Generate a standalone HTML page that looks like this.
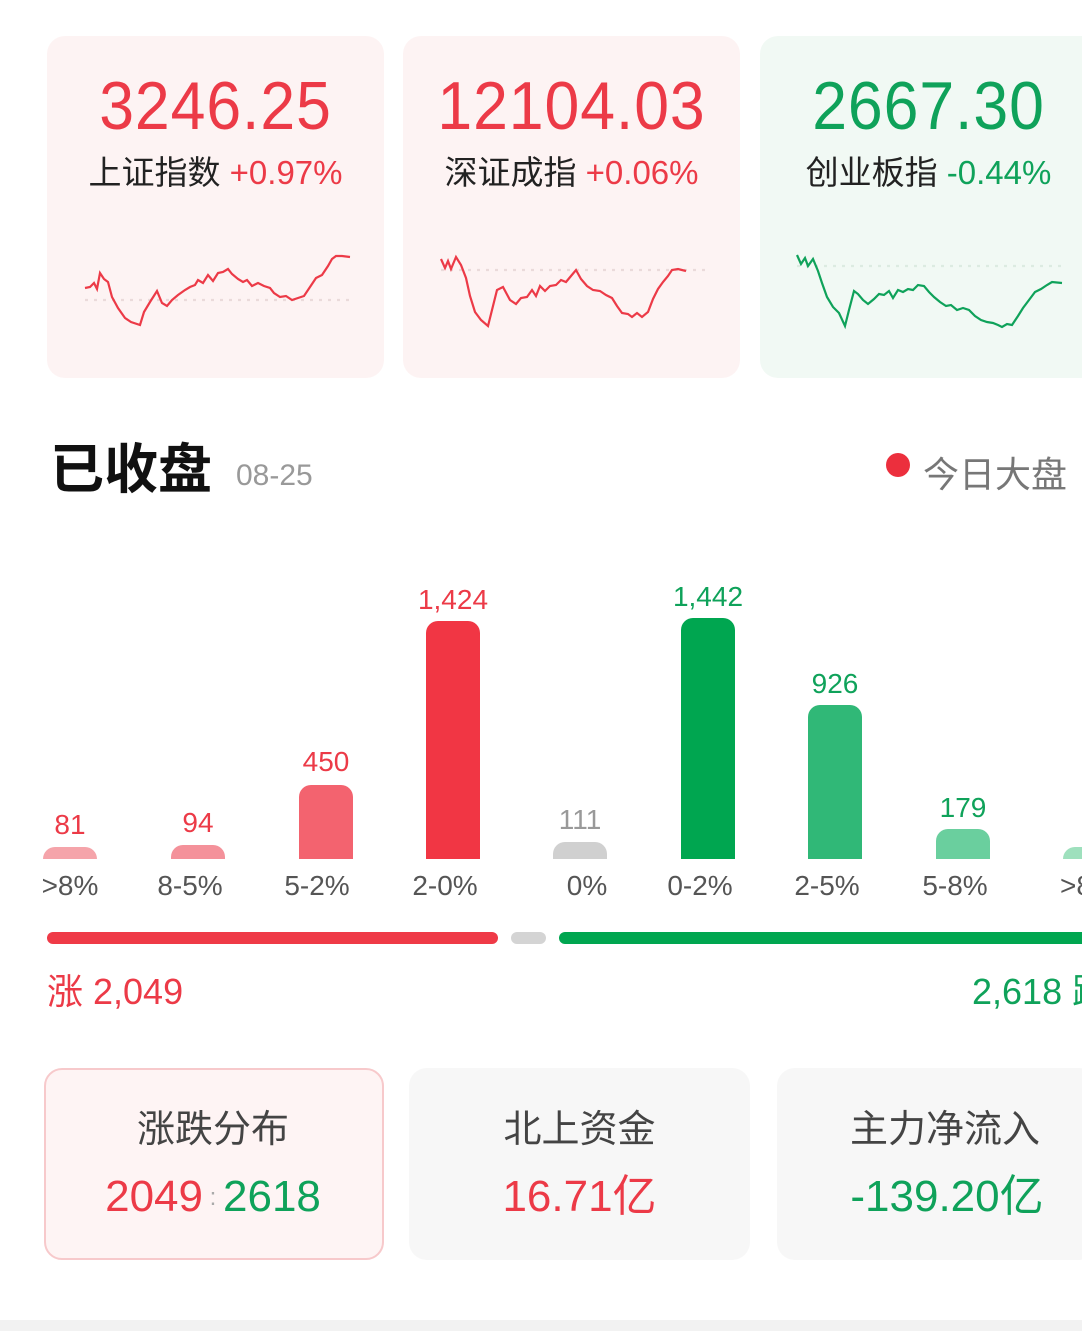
<!DOCTYPE html>
<html><head><meta charset="utf-8"><style>
body{margin:0;width:1082px;height:1331px;background:#fff;position:relative;overflow:hidden;font-family:"Liberation Sans","Noto Sans CJK SC",sans-serif}
.a{position:absolute}
.card{position:absolute;border-radius:18px}
.big{position:absolute;font-size:68px;line-height:68px;text-align:center;letter-spacing:1px;transform:scaleX(0.92)}
.lab{position:absolute;font-size:33px;line-height:36px;text-align:center;color:#222;white-space:nowrap}
.bar{position:absolute;width:54px;border-radius:12px 12px 0 0;bottom:472px}
.v{position:absolute;width:80px;text-align:center;font-size:28px;line-height:30px}
.x{position:absolute;width:100px;text-align:center;font-size:28px;line-height:30px;color:#555;top:871px}
.bt{position:absolute;font-size:38px;color:#444;text-align:center;line-height:40px}
.bv{position:absolute;font-size:44px;text-align:center;line-height:46px}
</style></head><body>
<div class="card" style="left:47px;top:36px;width:337px;height:342px;background:#fdf3f3"></div>
<div class="card" style="left:403px;top:36px;width:337px;height:342px;background:#fdf3f3"></div>
<div class="card" style="left:760px;top:36px;width:340px;height:342px;background:#f1f9f4"></div>
<div class="big" style="left:47px;width:337px;top:72px;color:#ec3a47">3246.25</div>
<div class="big" style="left:403px;width:337px;top:72px;color:#ec3a47">12104.03</div>
<div class="big" style="left:760px;width:337px;top:72px;color:#0fa25a">2667.30</div>
<div class="lab" style="left:47px;width:337px;top:155px">上证指数 <span style="color:#ec3a47">+0.97%</span></div>
<div class="lab" style="left:403px;width:337px;top:155px">深证成指 <span style="color:#ec3a47">+0.06%</span></div>
<div class="lab" style="left:760px;width:337px;top:155px">创业板指 <span style="color:#0fa25a">-0.44%</span></div>
<svg class="a" style="left:0;top:0" width="1082" height="400">
<g fill="none" stroke-width="2.2">
<line x1="85" y1="300" x2="352" y2="300" stroke="#eadada" stroke-dasharray="3 6"/>
<polyline stroke="#ec3a47" points="85,288 90,287 94,283 97,289 100,273 104,279 108,282 112,297 118,308 125,318 131,322 140,325 144,312 150,302 157,291 162,303 167,306 172,300 178,295 185,290 190,287 195,285 198,280 203,283 208,275 213,281 218,273 223,272 228,269 232,274 238,279 243,282 247,280 252,286 258,283 264,286 270,288 274,293 280,297 286,296 292,300 298,298 304,296 310,287 316,278 322,275 328,266 332,259 336,256 342,256 350,257"/>
<line x1="441" y1="270" x2="708" y2="270" stroke="#eadada" stroke-dasharray="3 6"/>
<polyline stroke="#ec3a47" points="441,259 445,268 448,261 451,269 456,257 461,265 466,278 470,296 475,312 481,320 488,326 492,310 497,290 503,287 510,300 516,304 521,298 527,297 532,290 536,296 540,286 545,291 550,286 556,285 561,280 566,282 571,276 576,270 581,279 587,286 593,290 600,291 606,295 612,298 617,306 622,313 628,314 632,317 637,313 642,317 648,312 653,299 658,289 663,282 668,276 672,270 678,269 686,271"/>
<line x1="797" y1="266" x2="1064" y2="266" stroke="#dcebe1" stroke-dasharray="3 6"/>
<polyline stroke="#0fa25a" points="797,255 801,264 805,258 808,266 813,259 818,271 822,283 827,297 833,307 839,313 845,326 849,310 854,291 858,294 863,300 868,304 874,299 879,294 884,295 889,291 893,298 898,290 903,292 908,289 913,290 918,285 924,286 929,292 934,297 940,302 946,306 951,305 957,310 963,308 969,310 975,316 981,320 987,322 993,323 998,325 1002,327 1007,324 1012,325 1018,316 1023,308 1029,300 1035,292 1041,289 1047,285 1052,282 1062,283"/>
</g></svg>
<div class="a" style="left:50px;top:438px;font-size:54px;font-weight:bold;color:#111;line-height:64px">已收盘</div>
<div class="a" style="left:236px;top:459px;font-size:30px;color:#999">08-25</div>
<div class="a" style="left:886px;top:453px;width:24px;height:24px;border-radius:50%;background:#ec2f3d"></div>
<div class="a" style="left:923px;top:446px;font-size:36px;color:#777">今日大盘</div>

<div class="bar" style="left:43px;height:12px;background:#f5a4aa"></div>
<div class="bar" style="left:171px;height:14px;background:#f4919a"></div>
<div class="bar" style="left:299px;height:74px;background:#f3636f"></div>
<div class="bar" style="left:426px;height:238px;background:#f13644"></div>
<div class="bar" style="left:553px;height:17px;background:#d0d0d0"></div>
<div class="bar" style="left:681px;height:241px;background:#00a650"></div>
<div class="bar" style="left:808px;height:154px;background:#30b877"></div>
<div class="bar" style="left:936px;height:30px;background:#6acf9e"></div>
<div class="bar" style="left:1063px;height:12px;background:#9ee0bd"></div>
<div class="v" style="left:30px;top:810px;color:#ec3a47">81</div>
<div class="v" style="left:158px;top:808px;color:#ec3a47">94</div>
<div class="v" style="left:286px;top:747px;color:#ec3a47">450</div>
<div class="v" style="left:413px;top:585px;color:#ec3a47">1,424</div>
<div class="v" style="left:540px;top:805px;color:#999">111</div>
<div class="v" style="left:668px;top:582px;color:#0fa25a">1,442</div>
<div class="v" style="left:795px;top:669px;color:#0fa25a">926</div>
<div class="v" style="left:923px;top:793px;color:#0fa25a">179</div>
<div class="v" style="left:1050px;top:810px;color:#0fa25a">7</div>
<div class="x" style="left:20px">&gt;8%</div>
<div class="x" style="left:140px">8-5%</div>
<div class="x" style="left:267px">5-2%</div>
<div class="x" style="left:395px">2-0%</div>
<div class="x" style="left:537px">0%</div>
<div class="x" style="left:650px">0-2%</div>
<div class="x" style="left:777px">2-5%</div>
<div class="x" style="left:905px">5-8%</div>
<div class="x" style="left:1032px;text-align:left;padding-left:28px">&gt;8</div>

<div class="a" style="left:47px;top:932px;width:451px;height:12px;border-radius:6px;background:#ef3a47"></div>
<div class="a" style="left:511px;top:932px;width:35px;height:12px;border-radius:6px;background:#d4d4d4"></div>
<div class="a" style="left:559px;top:932px;width:540px;height:12px;border-radius:6px;background:#00a650"></div>
<div class="a" style="left:47px;top:970px;font-size:36px;color:#ec3a47;line-height:44px">涨 2,049</div>
<div class="a" style="left:972px;top:970px;font-size:36px;color:#0fa25a;line-height:44px;white-space:nowrap">2,618 跌</div>

<div class="card" style="left:44px;top:1068px;width:340px;height:192px;background:#fef4f4;border:2px solid #f7c9cb;box-sizing:border-box"></div>
<div class="card" style="left:409px;top:1068px;width:341px;height:192px;background:#f7f7f7"></div>
<div class="card" style="left:777px;top:1068px;width:320px;height:192px;background:#f7f7f7"></div>
<div class="bt" style="left:44px;width:338px;top:1110px">涨跌分布</div>
<div class="bt" style="left:409px;width:341px;top:1110px">北上资金</div>
<div class="bt" style="left:777px;width:336px;top:1110px">主力净流入</div>
<div class="bv" style="left:44px;width:338px;top:1174px"><span style="color:#ec3a47">2049</span><span style="color:#aaa;font-size:24px;vertical-align:6px"> : </span><span style="color:#0fa25a">2618</span></div>
<div class="bv" style="left:409px;width:341px;top:1174px;color:#ec3a47">16.71亿</div>
<div class="bv" style="left:777px;width:340px;top:1174px;color:#0fa25a">-139.20亿</div>
<div class="a" style="left:0;top:1320px;width:1082px;height:11px;background:#f2f2f2"></div>
</body></html>
